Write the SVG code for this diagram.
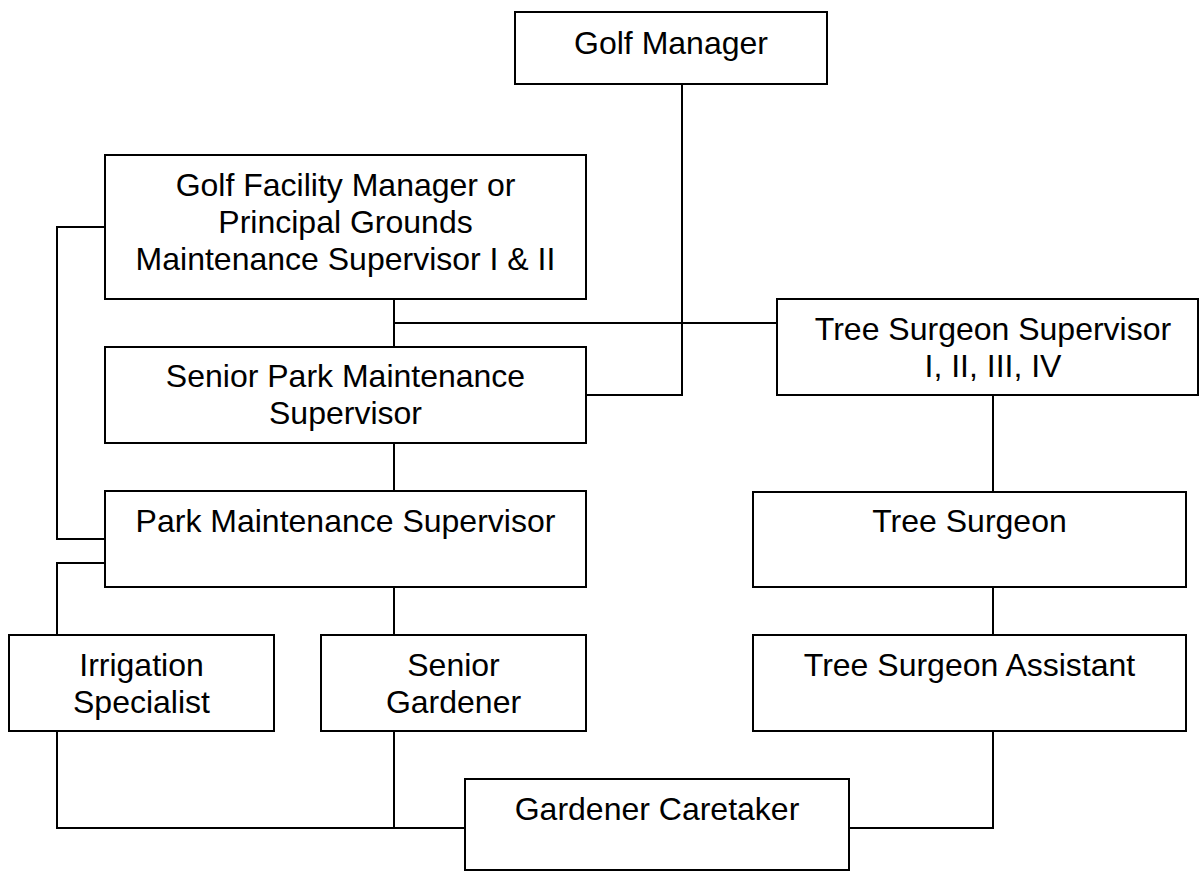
<svg xmlns="http://www.w3.org/2000/svg" width="1199" height="872" viewBox="0 0 1199 872">
<style>
.box{fill:#fff;stroke:#000;stroke-width:2}
.lbl{font-family:"Liberation Sans",Arial,sans-serif;font-size:32px;fill:#000;text-anchor:middle}
.con{fill:none;stroke:#000;stroke-width:2}
</style>
<rect width="1199" height="872" fill="#fff"/>
<g id="connectors">
<path class="con" d="M682,84 V395 H586"/>
<path class="con" d="M394,299 V347"/>
<path class="con" d="M394,323 H777"/>
<path class="con" d="M105,227 H57 V539 H105"/>
<path class="con" d="M105,563 H57 V635"/>
<path class="con" d="M394,443 V491"/>
<path class="con" d="M394,587 V635"/>
<path class="con" d="M993,395 V492"/>
<path class="con" d="M993,587 V635"/>
<path class="con" d="M57,731 V828 H465"/>
<path class="con" d="M394,731 V828"/>
<path class="con" d="M849,828 H993 V731"/>
</g>
<g id="golf-manager">
<rect class="box" x="515" y="12" width="312" height="72"/>
<text class="lbl" x="671" y="54">Golf Manager</text>
</g>
<g id="golf-facility-manager">
<rect class="box" x="105" y="155" width="481" height="144"/>
<text class="lbl" x="345.5" y="196">Golf Facility Manager or</text>
<text class="lbl" x="345.5" y="233">Principal Grounds</text>
<text class="lbl" x="345.5" y="270">Maintenance Supervisor I &amp; II</text>
</g>
<g id="senior-park-maintenance-supervisor">
<rect class="box" x="105" y="347" width="481" height="96"/>
<text class="lbl" x="345.5" y="387">Senior Park Maintenance</text>
<text class="lbl" x="345.5" y="424">Supervisor</text>
</g>
<g id="tree-surgeon-supervisor">
<rect class="box" x="777" y="299" width="421" height="96"/>
<text class="lbl" x="993" y="340">Tree Surgeon Supervisor</text>
<text class="lbl" x="993" y="377">I, II, III, IV</text>
</g>
<g id="park-maintenance-supervisor">
<rect class="box" x="105" y="491" width="481" height="96"/>
<text class="lbl" x="345.5" y="532">Park Maintenance Supervisor</text>
</g>
<g id="tree-surgeon">
<rect class="box" x="753" y="492" width="433" height="95"/>
<text class="lbl" x="969.5" y="532">Tree Surgeon</text>
</g>
<g id="irrigation-specialist">
<rect class="box" x="9" y="635" width="265" height="96"/>
<text class="lbl" x="141.5" y="676">Irrigation</text>
<text class="lbl" x="141.5" y="713">Specialist</text>
</g>
<g id="senior-gardener">
<rect class="box" x="321" y="635" width="265" height="96"/>
<text class="lbl" x="453.5" y="676">Senior</text>
<text class="lbl" x="453.5" y="713">Gardener</text>
</g>
<g id="tree-surgeon-assistant">
<rect class="box" x="753" y="635" width="433" height="96"/>
<text class="lbl" x="969.5" y="676">Tree Surgeon Assistant</text>
</g>
<g id="gardener-caretaker">
<rect class="box" x="465" y="779" width="384" height="91"/>
<text class="lbl" x="657" y="820">Gardener Caretaker</text>
</g>
</svg>
